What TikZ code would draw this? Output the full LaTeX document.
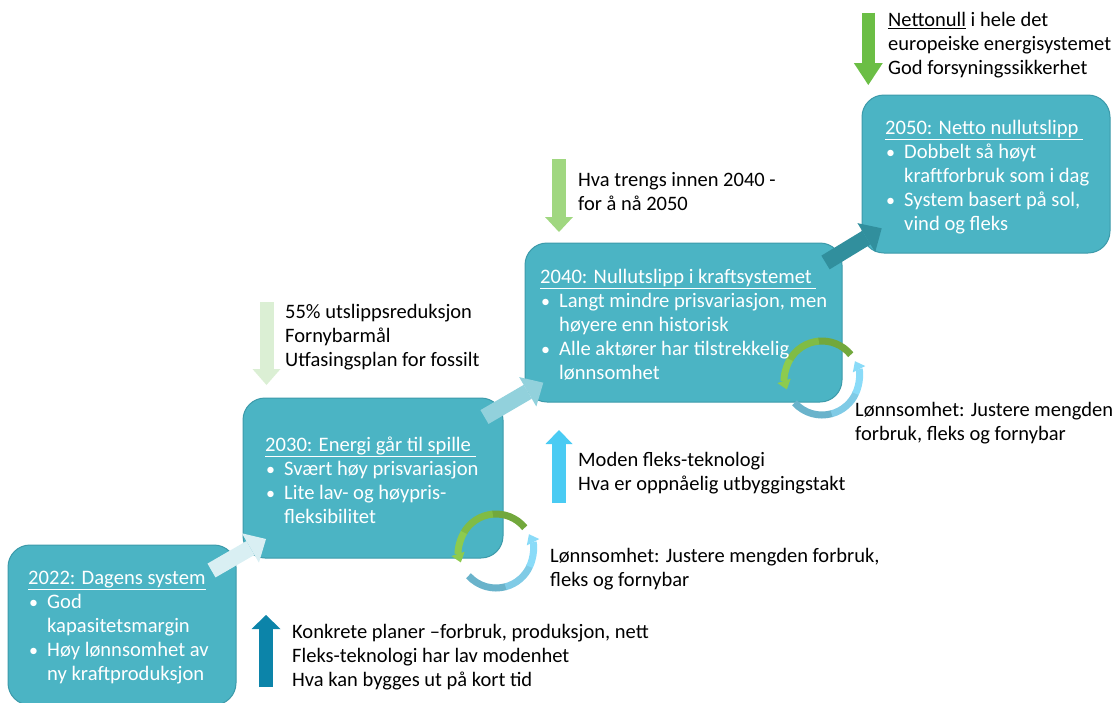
\documentclass[tikz,border=0pt]{standalone}
\usepackage{fontspec}
\setmainfont{Carlito}
\usetikzlibrary{arrows.meta}
\definecolor{boxfill}{HTML}{4BB4C4}
\definecolor{boxline}{HTML}{3C9AAA}
\definecolor{arrA}{HTML}{D9EFF3}
\definecolor{arrB}{HTML}{92D1DC}
\definecolor{arrC}{HTML}{318F9D}
\definecolor{grnA}{HTML}{6BBE45}
\definecolor{grnB}{HTML}{A0D780}
\definecolor{grnC}{HTML}{DBEFD4}
\definecolor{bluA}{HTML}{4ACBF3}
\definecolor{bluB}{HTML}{0C84A9}
\definecolor{cycGa}{HTML}{72A83C}
\definecolor{cycGb}{HTML}{80BC45}
\definecolor{cycGc}{HTML}{8DCB4E}
\definecolor{cycBa}{HTML}{6AB3CB}
\definecolor{cycBb}{HTML}{80CBE6}
\definecolor{cycBc}{HTML}{8ADBF8}

\newcommand\bxbul{\makebox[19pt][l]{\hspace{1pt}{\fontsize{18}{24}\selectfont•}}}
\newcommand\bxind{\hspace*{19pt}}
\newcommand\cycarrows[1]{%
  \draw[cyc, cycGa] (#1) ++(39:37pt) arc[start angle=39, end angle=96, radius=37pt];
  \draw[cyc, cycGb] (#1) ++(95:37pt) arc[start angle=95, end angle=151, radius=37pt];
  \draw[cyc, cycGc, cyctip] (#1) ++(150:37pt) arc[start angle=150, end angle=198, radius=37pt];
  \draw[cyc, cycBa] (#1) ++(-138:37pt) arc[start angle=-138, end angle=-74, radius=37pt];
  \draw[cyc, cycBb] (#1) ++(-75:37pt) arc[start angle=-75, end angle=-24, radius=37pt];
  \draw[cyc, cycBc, cyctip] (#1) ++(-25:37pt) arc[start angle=-25, end angle=27, radius=37pt];
}

\begin{document}
\begin{tikzpicture}[x=1pt,y=-1pt,
  stepbox/.style={draw=boxline, line width=1pt, fill=boxfill, rounded corners=22pt, inner sep=0pt},
  boxtxt/.style={anchor=north west, inner sep=0pt, align=left, text=white, font=\fontsize{20.6}{24}\selectfont},
  blacktxt/.style={anchor=north west, inner sep=0pt, align=left, text=black, font=\fontsize{20.5}{24}\selectfont},
  diagarrow/.style={line width=16pt, -{Triangle[length=18pt,width=34pt,line width=0pt]}},
  cyc/.style={line width=7pt},
  cyctip/.style={-{Triangle[length=9pt,width=14pt,line width=0pt]}}
]
\useasboundingbox (0,0) rectangle (1117,702);

% boxes
\node[stepbox, minimum width=228pt, minimum height=160pt] (b2022) at (122,625) {};
\node[stepbox, minimum width=260pt, minimum height=160pt] (b2030) at (373,478) {};
\node[stepbox, minimum width=317pt, minimum height=159pt] (b2040) at (683.5,322.5) {};
\node[stepbox, minimum width=248pt, minimum height=158pt] (b2050) at (986,174) {};

% diagonal arrows between boxes
\coordinate (d1s) at (211.5,570.5); \coordinate (d1e) at (266,539);
\coordinate (d2s) at (484.5,417);   \coordinate (d2e) at (543.3,382.7);
\coordinate (d3s) at (825.5,262.5); \coordinate (d3e) at (881.7,228.3);
\draw[diagarrow, arrA] (d1s) -- (d1e);
\draw[diagarrow, arrB] (d2s) -- (d2e);
\draw[diagarrow, arrC] (d3s) -- (d3e);

% vertical arrows
\coordinate (v1s) at (868.3,12.7);  \coordinate (v1e) at (868.3,85);
\coordinate (v2s) at (559,159);     \coordinate (v2e) at (559,232);
\coordinate (v3s) at (266.5,302);   \coordinate (v3e) at (266.5,385);
\coordinate (v4s) at (559,503);     \coordinate (v4e) at (559,430);
\coordinate (v5s) at (266,687);     \coordinate (v5e) at (266,615);
\draw[grnA, line width=13.5pt, -{Triangle[length=22pt,width=29pt,line width=0pt]}] (v1s) -- (v1e);
\draw[grnB, line width=14pt, -{Triangle[length=15pt,width=28pt,line width=0pt]}] (v2s) -- (v2e);
\draw[grnC, line width=14pt, -{Triangle[length=16pt,width=28pt,line width=0pt]}] (v3s) -- (v3e);
\draw[bluA, line width=14pt, -{Triangle[length=14pt,width=27pt,line width=0pt]}] (v4s) -- (v4e);
\draw[bluB, line width=14pt, -{Triangle[length=14pt,width=29pt,line width=0pt]}] (v5s) -- (v5e);

% circular arrows
\coordinate (cyc1) at (496,551);
\coordinate (cyc2) at (822,378);
\cycarrows{cyc1}
\cycarrows{cyc2}

% box texts
\node[boxtxt] (t2022) at (28,567.7) {\strut\underline{2022: Dagens system}\\
\bxbul God\\
\bxind kapasitetsmargin\\
\bxbul Høy lønnsomhet av\\
\bxind ny kraftproduksjon};
\node[boxtxt] (t2030) at (265,434.7) {\strut\underline{2030: Energi går til spille\ }\\
\bxbul Svært høy prisvariasjon\\
\bxbul Lite lav- og høypris-\\
\bxind fleksibilitet};
\node[boxtxt] (t2040) at (540,266.7) {\strut\underline{2040: Nullutslipp i kraftsystemet\ }\\
\bxbul Langt mindre prisvariasjon, men\\
\bxind høyere enn historisk\\
\bxbul Alle aktører har tilstrekkelig\\
\bxind lønnsomhet};
\node[boxtxt] (t2050) at (885,117.7) {\strut\underline{2050: Netto nullutslipp\ }\\
\bxbul Dobbelt så høyt\\
\bxind kraftforbruk som i dag\\
\bxbul System basert på sol,\\
\bxind vind og fleks};

% black texts
\node[blacktxt] (n1) at (888,9.7) {\strut\underline{Nettonull} i hele det\\
europeiske energisystemet\\
God forsyningssikkerhet};
\node[blacktxt] (n2) at (578,169.7) {\strut Hva trengs innen 2040 -\\
for å nå 2050};
\node[blacktxt] (n3) at (285,301.7) {\strut 55\% utslippsreduksjon\\
Fornybarmål\\
Utfasingsplan for fossilt};
\node[blacktxt] (n4) at (578,449.7) {\strut Moden fleks-teknologi\\
Hva er oppnåelig utbyggingstakt};
\node[blacktxt] (n5) at (550,545.7) {\strut Lønnsomhet: Justere mengden forbruk,\\
fleks og fornybar};
\node[blacktxt] (n6) at (292,621.7) {\strut Konkrete planer –forbruk, produksjon, nett\\
Fleks-teknologi har lav modenhet\\
Hva kan bygges ut på kort tid};
\node[blacktxt] (n7) at (855,399.7) {\strut Lønnsomhet: Justere mengden\\
forbruk, fleks og fornybar};
\end{tikzpicture}
\end{document}
